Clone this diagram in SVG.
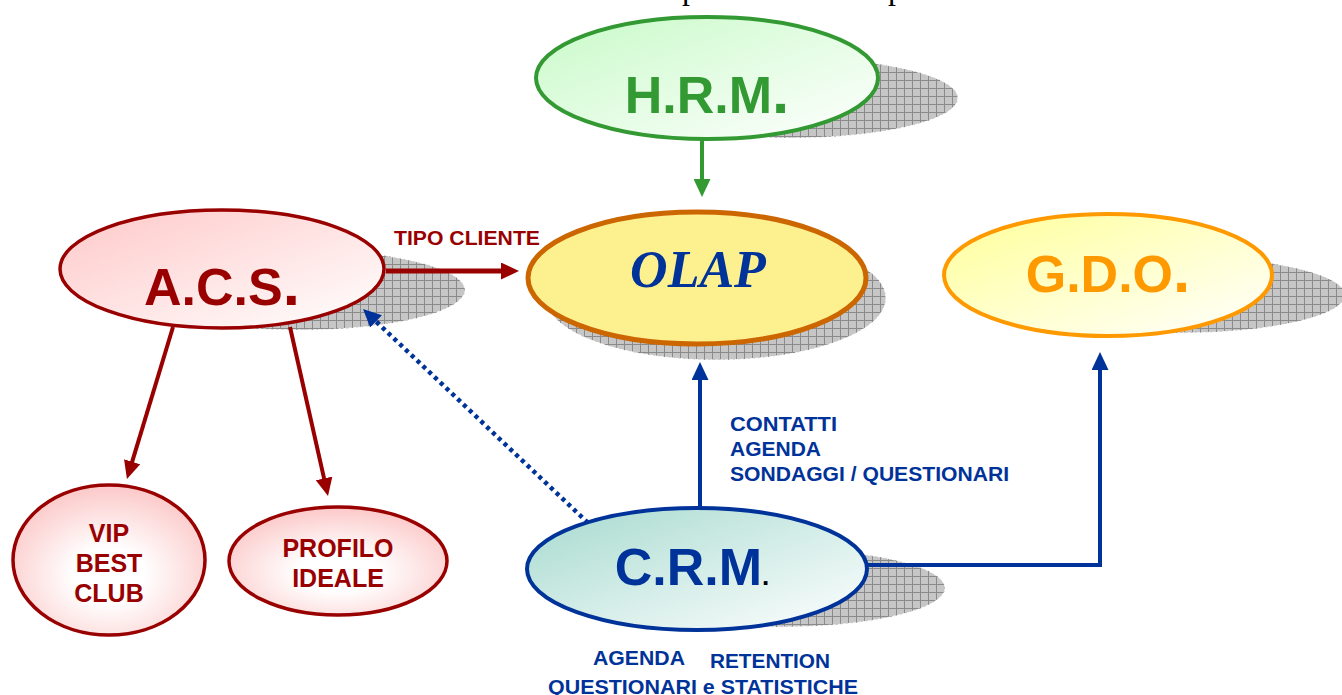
<svg xmlns="http://www.w3.org/2000/svg" width="1342" height="695" viewBox="0 0 1342 695">
<style>
.lbl{font-family:"Liberation Sans",Arial,sans-serif;font-weight:bold}
.big{font-size:52px;text-anchor:middle}
.sm{font-size:21px}
.mid{font-size:25px;text-anchor:middle}
.red{fill:#990000}
.blue{fill:#003399}
.shadow{fill:url(#hatch);stroke:#ffffff;stroke-width:1;stroke-dasharray:3 2}
</style>
<defs>
<pattern id="hatch" width="8" height="8" patternUnits="userSpaceOnUse">
<rect width="8" height="8" fill="#c6c6c6"/>
<path d="M0,0.5 H8 M0.5,0 V8" stroke="#8a8a8a" stroke-width="1"/>
</pattern>
<linearGradient id="gHRM" x1="0" y1="0" x2="1" y2="1"><stop offset="0" stop-color="#c8fac8"/><stop offset="1" stop-color="#ffffff"/></linearGradient>
<linearGradient id="gACS" x1="0" y1="0" x2="1" y2="1"><stop offset="0" stop-color="#ffc8c8"/><stop offset="1" stop-color="#ffffff"/></linearGradient>
<linearGradient id="gGDO" x1="0" y1="0" x2="1" y2="1"><stop offset="0" stop-color="#ffff99"/><stop offset="1" stop-color="#ffffff"/></linearGradient>
<linearGradient id="gCRM" x1="0" y1="0" x2="1" y2="1"><stop offset="0" stop-color="#a6dacf"/><stop offset="1" stop-color="#ffffff"/></linearGradient>
<radialGradient id="gSmall" cx="0.5" cy="0.6" r="0.6"><stop offset="0.3" stop-color="#ffffff"/><stop offset="1" stop-color="#fcc8c8"/></radialGradient>
<marker id="aRed" markerUnits="userSpaceOnUse" markerWidth="18" markerHeight="17" viewBox="0 0 18 17" refX="2" refY="8.5" orient="auto"><path d="M0,0 L18,8.5 L0,17 z" fill="#990000"/></marker>
<marker id="aBlue" markerUnits="userSpaceOnUse" markerWidth="18" markerHeight="17" viewBox="0 0 18 17" refX="2" refY="8.5" orient="auto"><path d="M0,0 L18,8.5 L0,17 z" fill="#003399"/></marker>
<marker id="aGreen" markerUnits="userSpaceOnUse" markerWidth="18" markerHeight="17" viewBox="0 0 18 17" refX="2" refY="8.5" orient="auto"><path d="M0,0 L18,8.5 L0,17 z" fill="#339933"/></marker>
</defs>
<rect width="1342" height="695" fill="#ffffff"/>
<text x="682" y="-1" font-family="Liberation Serif,serif" font-size="32" fill="#000">p</text>
<text x="888" y="-1" font-family="Liberation Serif,serif" font-size="32" fill="#000">p</text>

<g id="shadows">
<ellipse class="shadow" cx="790" cy="98" rx="168" ry="40"/>
<ellipse class="shadow" cx="300" cy="290" rx="165" ry="40"/>
<ellipse class="shadow" cx="716" cy="298" rx="170" ry="62"/>
<ellipse class="shadow" cx="1180" cy="295" rx="165" ry="38"/>
<ellipse class="shadow" cx="780" cy="588" rx="165" ry="39"/>
</g>

<g id="connectors" fill="none">
<line x1="702" y1="140" x2="702" y2="181" stroke="#339933" stroke-width="4" marker-end="url(#aGreen)"/>
<line x1="386" y1="271" x2="503" y2="271" stroke="#990000" stroke-width="5" marker-end="url(#aRed)"/>
<line x1="700" y1="508" x2="700" y2="378" stroke="#003399" stroke-width="4" marker-end="url(#aBlue)"/>
<path d="M867,565 H1100 V368" stroke="#003399" stroke-width="4" marker-end="url(#aBlue)"/>
<line x1="588" y1="523" x2="374.6" y2="320" stroke="#003399" stroke-width="4.5" stroke-dasharray="4 4" marker-end="url(#aBlue)"/>
<line x1="173" y1="327" x2="131.6" y2="463.7" stroke="#990000" stroke-width="4" marker-end="url(#aRed)"/>
<line x1="290" y1="327" x2="324.5" y2="480.4" stroke="#990000" stroke-width="4" marker-end="url(#aRed)"/>
</g>

<g id="hrm">
<ellipse cx="707" cy="78" rx="171" ry="61" fill="url(#gHRM)" stroke="#339933" stroke-width="4"/>
<text class="lbl big" x="707" y="113" fill="#339933">H.R.M<tspan font-size="62">.</tspan></text>
</g>

<g id="acs">
<ellipse cx="222" cy="269" rx="162" ry="59" fill="url(#gACS)" stroke="#990000" stroke-width="3.5"/>
<text class="lbl big red" x="222" y="305">A.C.S<tspan font-size="62">.</tspan></text>
</g>
<text class="lbl sm red" x="394" y="245" textLength="146" lengthAdjust="spacingAndGlyphs">TIPO CLIENTE</text>

<g id="olap">
<ellipse cx="697" cy="278" rx="169" ry="66" fill="#fdf08f" stroke="#cc6600" stroke-width="5"/>
<text x="698" y="287" font-family="Liberation Serif,serif" font-style="italic" font-weight="bold" font-size="52" fill="#003399" text-anchor="middle">OLAP</text>
</g>

<g id="gdo">
<ellipse cx="1108" cy="275" rx="164" ry="61" fill="url(#gGDO)" stroke="#ff9900" stroke-width="4"/>
<text class="lbl big" x="1108" y="292" fill="#ff9900">G.D.O<tspan font-size="62">.</tspan></text>
</g>

<g id="crm">
<ellipse cx="697" cy="569" rx="170" ry="61" fill="url(#gCRM)" stroke="#003399" stroke-width="4"/>
<text class="lbl big blue" x="692" y="585">C.R.M<tspan fill="#000" font-size="26">.</tspan></text>
</g>

<g id="vip">
<ellipse cx="109" cy="560" rx="96" ry="75" fill="url(#gSmall)" stroke="#990000" stroke-width="3.5"/>
<text class="lbl mid red" x="109" y="542">VIP</text>
<text class="lbl mid red" x="109" y="572">BEST</text>
<text class="lbl mid red" x="109" y="602">CLUB</text>
</g>

<g id="profilo">
<ellipse cx="338" cy="561" rx="109" ry="54" fill="url(#gSmall)" stroke="#990000" stroke-width="3.5"/>
<text class="lbl mid red" x="338" y="557">PROFILO</text>
<text class="lbl mid red" x="338" y="587">IDEALE</text>
</g>

<g id="labels">
<text class="lbl sm blue" x="730" y="431" textLength="107" lengthAdjust="spacingAndGlyphs">CONTATTI</text>
<text class="lbl sm blue" x="730" y="456">AGENDA</text>
<text class="lbl sm blue" x="730" y="481" textLength="279" lengthAdjust="spacingAndGlyphs">SONDAGGI / QUESTIONARI</text>
<text class="lbl sm blue" x="593" y="665" textLength="92" lengthAdjust="spacingAndGlyphs">AGENDA</text>
<text class="lbl sm blue" x="710" y="668" textLength="120" lengthAdjust="spacingAndGlyphs">RETENTION</text>
<text class="lbl sm blue" x="548" y="694" textLength="310" lengthAdjust="spacingAndGlyphs">QUESTIONARI e STATISTICHE</text>
</g>
</svg>
